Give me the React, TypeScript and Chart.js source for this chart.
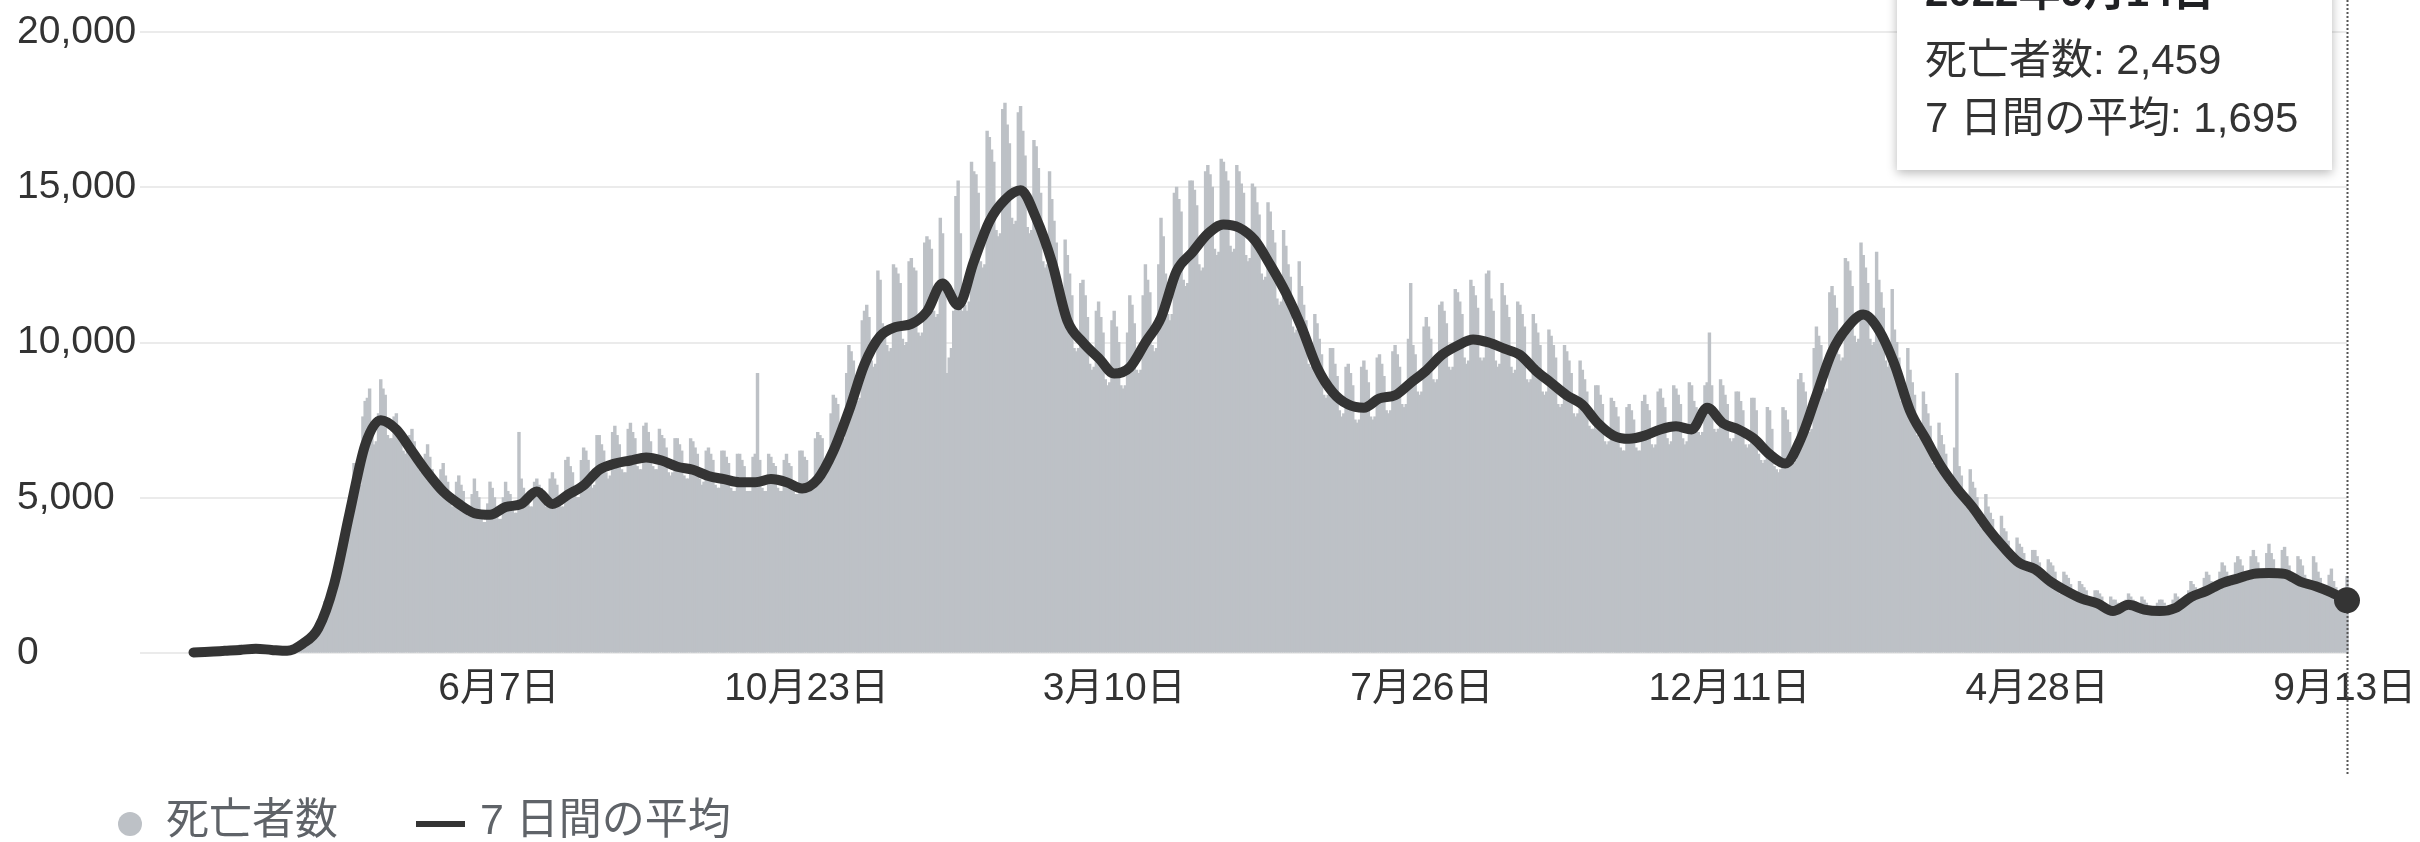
import React, { useEffect, useRef } from 'react';
import { Chart, registerables } from 'chart.js';

Chart.register(...registerables);

// First day of the series; one value per day (rows are Wed..Tue weeks)
const START_DATE = '2020-01-22';

// Daily deaths 2020-01-22 .. 2020-09-22
const deathsPart1 = [
  17, 1, 8, 16, 14, 26, 49,
  2, 38, 42, 46, 57, 64, 66,
  73, 73, 86, 89, 97, 108, 97,
  254, 121, 143, 142, 105, 98, 136,
  115, 118, 109, 97, 150, 71, 52,
  29, 44, 37, 58, 64, 67, 73,
  86, 90, 105, 102, 105, 229, 244,
  300, 330, 360, 440, 400, 710, 770,
  1000, 1180, 1380, 1650, 1660, 1660, 1920,
  2380, 2830, 3210, 3450, 3190, 3390, 4140,
  4690, 5210, 6100, 5760, 5300, 5400, 7600,
  8100, 8200, 8500, 7000, 6700, 6800, 7700,
  8800, 8500, 8300, 7000, 6900, 6900, 7600,
  7700, 7200, 7000, 6500, 6400, 6500, 7000,
  7200, 6800, 6400, 5900, 5800, 5800, 6400,
  6700, 6300, 5900, 5300, 5200, 5200, 5900,
  6100, 5700, 5500, 4800, 4700, 4700, 5500,
  5700, 5400, 5200, 4500, 4400, 4400, 5100,
  5600, 5200, 5000, 4300, 4200, 4200, 4800,
  5500, 5300, 5000, 4400, 4300, 4300, 5000,
  5500, 5200, 5100, 4600, 4500, 4500, 7100,
  5600, 5300, 5100, 4800, 4700, 4700, 5500,
  5600, 5400, 5300, 4800, 4700, 4700, 5600,
  5800, 5600, 5400, 4800, 4700, 4700, 6200,
  6300, 6000, 5800, 5100, 5000, 5000, 6200,
  6600, 6500, 6200, 5400, 5300, 5400, 7000,
  7000, 6700, 6500, 5800, 5600, 5700, 7100,
  7300, 7000, 6700, 5900, 5800, 5800, 7200,
  7400, 7100, 6900, 6000, 5900, 5900, 7300,
  7400, 7100, 6800, 6000, 5900, 5900, 7200,
  7000, 6900, 6600, 5800, 5700, 5800, 6900,
  6900, 6700, 6500, 5700, 5600, 5600, 6900,
  6800, 6600, 6400, 5600, 5400, 5500, 6500,
  6600, 6400, 6200, 5400, 5300, 5300, 6500,
  6500, 6300, 6100, 5300, 5200, 5200, 6400,
];

// Daily deaths 2020-09-23 .. 2021-05-25
const deathsPart2 = [
  6400, 6200, 6000, 5200, 5200, 5200, 6300,
  6400, 9000, 6200, 5300, 5200, 5200, 6400,
  6300, 6100, 6000, 5300, 5200, 5200, 6200,
  6400, 6100, 6000, 5200, 5100, 5100, 6500,
  6500, 6300, 6200, 5300, 5200, 5300, 6900,
  7100, 7000, 6900, 5900, 5800, 5900, 7700,
  8300, 8200, 8000, 7000, 6800, 6900, 9000,
  9900, 9700, 9400, 8300, 8100, 8200, 10700,
  11000, 11200, 10800, 9400, 9200, 9300, 12300,
  12000, 10600, 10500, 9900, 9700, 9800, 12500,
  12400, 12200, 11900, 10100, 9900, 10000, 12600,
  12700, 12400, 12300, 10300, 10200, 10300, 13200,
  13400, 13300, 13000, 11000, 10800, 10900, 14000,
  13500, 12000, 9000, 9500, 9800, 11000, 14700,
  15200, 13500, 11000, 11200, 11000, 11300, 15800,
  15500, 15400, 14800, 12600, 12400, 12500, 16800,
  16600, 16200, 15800, 13600, 13400, 13500, 17500,
  17700, 17000, 16400, 14000, 13800, 13900, 17400,
  17600, 16800, 16000, 13700, 13500, 13600, 16500,
  16300, 15600, 14800, 12600, 12400, 12500, 15500,
  14600, 13900, 13200, 11100, 10900, 11000, 13300,
  12800, 12200, 11500, 9800, 9700, 9800, 11900,
  12000, 11500, 10800, 9300, 9100, 9200, 11000,
  11300, 10800, 10300, 8800, 8600, 8700, 10700,
  11000, 10500, 10000, 8600, 8500, 8600, 10300,
  11500, 11200, 10600, 9100, 9000, 9100, 11500,
  12500, 12000, 11600, 9900, 9700, 9800, 12500,
  14000, 13400, 12200, 10900, 10700, 10900, 14800,
  15000, 14600, 14200, 12000, 11800, 11900, 15200,
  15200, 14900, 14400, 12500, 12300, 12400, 15500,
  15700, 15400, 15000, 13000, 12800, 12900, 15900,
  15800, 15500, 15200, 13100, 12900, 13000, 15700,
  15500, 15100, 14800, 12800, 12600, 12700, 15100,
  15000, 14500, 14100, 12200, 12000, 12100, 14500,
  14200, 13600, 13200, 11400, 11200, 11300, 13600,
];

// Daily deaths 2021-05-26 .. 2022-01-25
const deathsPart3 = [
  13100, 12500, 12100, 10500, 10300, 10400, 12600,
  11800, 11200, 10700, 9300, 9200, 9300, 10900,
  10600, 10100, 9600, 8300, 8200, 8300, 9800,
  9800, 9300, 8900, 7800, 7600, 7700, 9200,
  9300, 9000, 8600, 7500, 7400, 7500, 9200,
  9400, 9100, 8700, 7600, 7500, 7600, 9500,
  9600, 9300, 8900, 7800, 7700, 7800, 9700,
  9900, 9600, 9200, 8000, 7900, 8000, 10100,
  11900, 9900, 9600, 8400, 8300, 8400, 10500,
  10800, 10500, 10100, 8800, 8700, 8800, 11200,
  11300, 11000, 10600, 9200, 9100, 9200, 11700,
  11600, 11300, 10900, 9500, 9300, 9400, 12000,
  11800, 11500, 11100, 9500, 9400, 9500, 12200,
  12300, 11400, 11000, 9400, 9200, 9300, 11900,
  11500, 11200, 10800, 9200, 9000, 9100, 11300,
  11200, 10900, 10500, 8800, 8700, 8800, 10900,
  10600, 10300, 9900, 8400, 8300, 8400, 10400,
  10200, 9900, 9500, 8000, 7900, 8000, 9900,
  9700, 9400, 9000, 7700, 7600, 7700, 9400,
  9100, 8800, 8400, 7300, 7200, 7200, 8600,
  8600, 8300, 8000, 6800, 6700, 6800, 8200,
  8100, 7900, 7600, 6600, 6500, 6500, 7900,
  8000, 7800, 7500, 6600, 6500, 6500, 8100,
  8300, 8000, 7800, 6700, 6600, 6700, 8400,
  8500, 8200, 7900, 6900, 6700, 6800, 8600,
  8500, 8300, 8000, 6900, 6700, 6800, 8700,
  8600, 8100, 7900, 7100, 7000, 7100, 8600,
  8700, 10300, 8600, 7200, 7100, 7200, 8800,
  8600, 8300, 8000, 6900, 6800, 6900, 8400,
  8400, 8100, 7800, 6700, 6600, 6700, 8200,
  8200, 7800, 6400, 6200, 6100, 6200, 7900,
  7800, 7200, 6000, 5900, 5800, 5900, 7900,
  7800, 7500, 7100, 6200, 6100, 6200, 8800,
  9000, 8700, 8400, 7200, 7100, 7200, 9800,
  10500, 10200, 9900, 8500, 8400, 8500, 11600,
];

// Daily deaths 2022-01-26 .. 2022-09-14
const deathsPart4 = [
  11800, 11500, 11100, 9600, 9400, 9500, 12700,
  12600, 12300, 11800, 10200, 10000, 10100, 13200,
  12800, 12400, 11900, 10100, 9900, 10000, 12900,
  12000, 11600, 11100, 9400, 9200, 9300, 11700,
  10400, 10000, 9500, 8100, 8000, 8100, 9800,
  9100, 8700, 8300, 7000, 6900, 7000, 8400,
  8000, 7700, 7300, 6100, 6000, 6100, 7400,
  7000, 6700, 6400, 5400, 5300, 5400, 6600,
  9000, 6000, 5700, 4800, 4700, 4800, 5900,
  5500, 5300, 5000, 4100, 4000, 4100, 5100,
  4700, 4500, 4300, 3500, 3400, 3500, 4400,
  4000, 3900, 3600, 3000, 2900, 3000, 3700,
  3500, 3400, 3200, 2700, 2600, 2600, 3300,
  3300, 3100, 2900, 2400, 2300, 2300, 3000,
  2900, 2800, 2600, 2000, 1900, 2000, 2600,
  2500, 2400, 2200, 1800, 1700, 1700, 2300,
  2200, 2100, 2000, 1600, 1500, 1500, 2000,
  2000, 1900, 1800, 1400, 1350, 1400, 1800,
  1700, 1700, 1600, 1350, 1300, 1350, 1700,
  1900, 1800, 1700, 1400, 1350, 1400, 1800,
  1700, 1600, 1500, 1300, 1250, 1300, 1600,
  1700, 1700, 1600, 1300, 1300, 1300, 1700,
  1900, 1800, 1700, 1500, 1450, 1500, 2000,
  2300, 2200, 2100, 1800, 1750, 1800, 2400,
  2600, 2500, 2300, 2000, 1950, 2000, 2600,
  2900, 2800, 2600, 2200, 2150, 2200, 2900,
  3100, 3000, 2800, 2350, 2300, 2350, 3100,
  3300, 3100, 2900, 2450, 2400, 2400, 3200,
  3500, 3200, 3000, 2450, 2400, 2400, 3300,
  3400, 3100, 2800, 2300, 2250, 2300, 3100,
  3000, 2800, 2500, 2100, 2050, 2100, 3100,
  2900, 2600, 2400, 1950, 1900, 1900, 2500,
  2700, 2300, 2100, 1700, 1650, 1700, 1900,
  2459,
];

// 7-day average, read every 7th day starting 2020-01-22
const avgWeekly = [
  20, 40, 70, 100, 140, 100, 70, 300, 800, 2200,
  4500, 6700, 7500, 7200, 6500, 5800, 5200, 4800, 4500, 4450,
  4700, 4800, 5200, 4800, 5100, 5400, 5900, 6100, 6200, 6300,
  6200, 6000, 5900, 5700, 5600, 5500, 5500, 5600, 5500, 5300,
  5600, 6500, 7800, 9300, 10200, 10500, 10600, 11000, 11900, 11200,
  12600, 13900, 14600, 14900, 14000, 12600, 10700, 10000, 9500, 9000,
  9200, 10000, 10800, 12300, 12900, 13500, 13800, 13700, 13300, 12500,
  11600, 10500, 9200, 8400, 8000, 7900, 8200, 8300, 8700, 9100,
  9600, 9900, 10100, 10000, 9800, 9600, 9100, 8700, 8300, 8000,
  7400, 7000, 6900, 7000, 7200, 7300, 7200, 7900, 7400, 7200,
  6900, 6400, 6100, 6900, 8300, 9700, 10500, 10900, 10400, 9300,
  7800, 6900, 6000, 5300, 4700, 4000, 3400, 2900, 2700, 2300,
  2000, 1750, 1600, 1350, 1550, 1400, 1350, 1450, 1800, 2000,
  2250, 2400, 2550, 2580, 2550, 2300, 2150, 1950, 1695,
];

const tickDates = ['2020-06-07', '2020-10-23', '2021-03-10', '2021-07-26', '2021-12-11', '2022-04-28', '2022-09-13'];
const tickLabels = ['6月7日', '10月23日', '3月10日', '7月26日', '12月11日', '4月28日', '9月13日'];
const yTickValues = [0, 5000, 10000, 15000, 20000];
const seriesNames = ['死亡者数', '7 日間の平均'];

const FONT = '"Liberation Sans", Arial, "Noto Sans CJK JP", sans-serif';
const BAR_COLOR = '#bdc1c6';
const LINE_COLOR = '#343434';

const DAY_MS = 86400000;
const dayIndex = (s: string) =>
  Math.round((Date.parse(s + 'T00:00:00Z') - Date.parse(START_DATE + 'T00:00:00Z')) / DAY_MS);
const fmt = (v: number) => v.toLocaleString('en-US');

export default function App() {
  const ref = useRef<HTMLCanvasElement>(null);

  useEffect(() => {
    const canvas = ref.current;
    if (!canvas) return;
    const deaths = [...deathsPart1, ...deathsPart2, ...deathsPart3, ...deathsPart4];
    const barData = deaths.map((v, i) => ({ x: i, y: v }));
    const lineData = avgWeekly.map((v, i) => ({ x: i * 7, y: v }));
    const lastDay = deaths.length - 1;
    const lastAvgIdx = lineData.length - 1;
    const tickDays = tickDates.map(dayIndex);
    const labelByDay = new Map<number, string>();
    tickDays.forEach((d, i) => labelByDay.set(d, tickLabels[i]));

    const lastDate = new Date(Date.parse(START_DATE + 'T00:00:00Z') + lastDay * DAY_MS);
    const title = `${lastDate.getUTCFullYear()}年${lastDate.getUTCMonth() + 1}月${lastDate.getUTCDate()}日`;

    const overlay = {
      id: 'overlay',
      afterDatasetDraw(chart: any, args: any) {
        if (args.index !== 1) return;
        const ctx = chart.ctx;
        const x = Math.round(chart.scales.x.getPixelForValue(lastDay)) + 0.5;
        ctx.save();
        ctx.strokeStyle = '#555';
        ctx.lineWidth = 2;
        ctx.setLineDash([2, 2]);
        ctx.beginPath();
        ctx.moveTo(x, 0);
        ctx.lineTo(x, 776);
        ctx.stroke();
        ctx.restore();
      },
      afterDraw(chart: any) {
        const ctx = chart.ctx;
        const px = chart.scales.x.getPixelForValue(lastDay);
        // tooltip
        const right = px - 15;
        const w = 435;
        const left = right - w;
        const top = -40;
        const bottom = 170;
        ctx.save();
        ctx.shadowColor = 'rgba(0,0,0,0.28)';
        ctx.shadowBlur = 10;
        ctx.shadowOffsetY = 3;
        ctx.fillStyle = '#fff';
        ctx.fillRect(left, top, w, bottom - top);
        ctx.restore();
        ctx.save();
        ctx.textBaseline = 'middle';
        ctx.textAlign = 'left';
        ctx.fillStyle = '#202124';
        ctx.font = `bold 42px ${FONT}`;
        ctx.fillText(title, left + 28, -6);
        ctx.fillStyle = '#333';
        ctx.font = `42px ${FONT}`;
        ctx.fillText(`${seriesNames[0]}: ${fmt(deaths[lastDay])}`, left + 28, 62);
        ctx.fillText(`${seriesNames[1]}: ${fmt(avgWeekly[lastAvgIdx])}`, left + 28, 120);
        ctx.restore();

        // legend
        ctx.save();
        ctx.fillStyle = BAR_COLOR;
        ctx.beginPath();
        ctx.arc(130, 824, 12, 0, Math.PI * 2);
        ctx.fill();
        ctx.fillStyle = '#5f6368';
        ctx.font = `43px ${FONT}`;
        ctx.textBaseline = 'middle';
        ctx.fillText(seriesNames[0], 166, 822);
        ctx.fillStyle = LINE_COLOR;
        ctx.fillRect(416, 821, 49, 6);
        ctx.fillStyle = '#5f6368';
        ctx.fillText(seriesNames[1], 480, 822);
        ctx.restore();
      },
    };

    const chart = new Chart(canvas, {
      type: 'bar',
      data: {
        datasets: [
          {
            type: 'line',
            label: seriesNames[1],
            data: lineData as any,
            borderColor: LINE_COLOR,
            borderWidth: 10,
            borderCapStyle: 'round',
            borderJoinStyle: 'round',
            cubicInterpolationMode: 'monotone',
            pointRadius: (c: any) => (c.dataIndex === lastAvgIdx ? 13 : 0),
            pointBackgroundColor: LINE_COLOR,
            pointBorderWidth: 0,
            fill: false,
            clip: false,
            order: 0,
          } as any,
          {
            type: 'bar',
            label: seriesNames[0],
            data: barData as any,
            backgroundColor: BAR_COLOR,
            borderWidth: 0,
            barPercentage: 1,
            categoryPercentage: 1,
            inflateAmount: 0.6,
            clip: false,
            order: 1,
          } as any,
        ],
      },
      options: {
        responsive: false,
        maintainAspectRatio: false,
        devicePixelRatio: 1,
        animation: false,
        events: [],
        layout: { padding: { left: 17, right: 73, top: 32, bottom: 0 } },
        plugins: { legend: { display: false }, tooltip: { enabled: false } },
        scales: {
          x: {
            type: 'linear',
            min: -24,
            max: lastDay,
            offset: false,
            grid: { display: false, drawTicks: false },
            border: { display: false },
            afterBuildTicks: (scale: any) => {
              scale.ticks = tickDays.map((d) => ({ value: d }));
            },
            afterFit: (scale: any) => {
              scale.height = 189;
              scale.paddingLeft = 0;
              scale.paddingRight = 0;
            },
            ticks: {
              autoSkip: false,
              maxRotation: 0,
              padding: 13,
              color: '#333',
              font: { family: FONT, size: 39 },
              callback: (v: any) => labelByDay.get(Number(v)) ?? '',
            },
          },
          y: {
            min: 0,
            max: 20000,
            grid: { color: '#ebebeb', lineWidth: 2, drawTicks: false },
            border: { display: false },
            afterBuildTicks: (scale: any) => {
              scale.ticks = yTickValues.map((v) => ({ value: v }));
            },
            afterFit: (scale: any) => {
              scale.width = 123;
              scale.paddingTop = 0;
              scale.paddingBottom = 0;
            },
            ticks: {
              crossAlign: 'far',
              padding: 4,
              color: '#333',
              font: { family: FONT, size: 39 },
              callback: (v: any) => fmt(Number(v)),
            },
          },
        },
      },
      plugins: [overlay],
    } as any);

    return () => chart.destroy();
  }, []);

  return (
    <div style={{ position: 'fixed', left: 0, top: 0, width: 2420, height: 842, background: '#fff', overflow: 'hidden' }}>
      <canvas ref={ref} width={2420} height={842} style={{ display: 'block', width: 2420, height: 842 }} />
    </div>
  );
}
